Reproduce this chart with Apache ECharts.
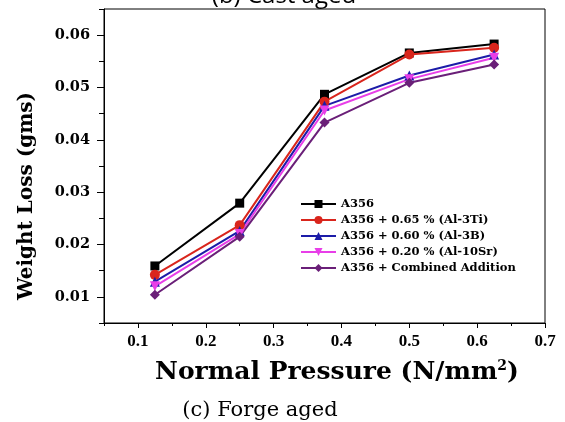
<!DOCTYPE html>
<html>
<head>
<meta charset="utf-8">
<script src="https://cdn.jsdelivr.net/npm/echarts@6/dist/echarts.min.js"></script>
<style>html,body{margin:0;padding:0;background:#fff}#c{width:565px;height:422px}</style>
</head>
<body>
<div id="c"></div>
<script>
var pressure = [0.125, 0.25, 0.375, 0.5, 0.625];
var seriesNames = ['A356', 'A356 + 0.65 % (Al-3Ti)', 'A356 + 0.60 % (Al-3B)', 'A356 + 0.20 % (Al-10Sr)', 'A356 + Combined Addition'];
var a356 =      [0.0159, 0.0279, 0.0487, 0.0566, 0.0583];
var a356Ti =    [0.0142, 0.0237, 0.0473, 0.0563, 0.0576];
var a356B =     [0.0129, 0.0226, 0.0465, 0.0523, 0.0563];
var a356Sr =    [0.0120, 0.0220, 0.0456, 0.0516, 0.0557];
var a356Comb =  [0.0104, 0.0215, 0.0433, 0.0509, 0.0544];
var yMajorTicks = [0.01, 0.02, 0.03, 0.04, 0.05, 0.06];
var yMinorTicks = [0.005, 0.015, 0.025, 0.035, 0.045, 0.055, 0.065];
var xMajorTicks = [0.1, 0.2, 0.3, 0.4, 0.5, 0.6, 0.7];
var xMinorTicks = [0.05, 0.15, 0.25, 0.35, 0.45, 0.55, 0.65];

var colors = ['#000000', '#d9251c', '#1c1ca8', '#e83ee8', '#6a1f78'];
var symbols = ['rect', 'circle', 'triangle', 'triangle', 'diamond'];
var rot = [0, 0, 0, 180, 0];
var allData = [a356, a356Ti, a356B, a356Sr, a356Comb];

var serif = '"Liberation Serif", "Times New Roman", serif';
var wideSerif = '"DejaVu Serif", serif';
var chart = echarts.init(document.getElementById('c'));

function pairs(arr) { return pressure.map(function (x, i) { return [x, arr[i]]; }); }

var series = allData.map(function (d, i) {
  return {
    name: seriesNames[i], type: 'line', data: pairs(d),
    xAxisIndex: 0, yAxisIndex: 0,
    symbol: symbols[i], symbolRotate: rot[i], symbolSize: i === 0 ? 9 : 10,
    lineStyle: { color: colors[i], width: 2 },
    itemStyle: { color: colors[i] },
    animation: false
  };
});

chart.setOption({
  animation: false,
  grid: { left: 104, top: 9, right: 20, bottom: 99, show: true, borderColor: '#000', borderWidth: 1 },
  legend: {
    orient: 'vertical', left: 295, top: 193, itemWidth: 35, itemHeight: 10, itemGap: 4,
    textStyle: { fontFamily: wideSerif, fontWeight: 'bold', fontSize: 11.5, color: '#000' },
    data: seriesNames
  },
  xAxis: [{
    type: 'value', min: 0.05, max: 0.7, interval: 0.05,
    axisLine: { show: true, lineStyle: { color: '#000', width: 1 } },
    axisTick: { show: true, inside: false, length: 5, customValues: xMajorTicks, lineStyle: { color: '#000' } },
    axisLabel: { customValues: xMajorTicks, margin: 10, fontFamily: serif, fontWeight: 'bold', fontSize: 17, color: '#000',
      formatter: function (v) { return v.toFixed(1); } },
    splitLine: { show: false }
  }, {
    type: 'value', min: 0.05, max: 0.7, interval: 0.05, position: 'bottom', offset: 0,
    axisLine: { show: false },
    axisTick: { show: true, inside: false, length: 3, customValues: xMinorTicks, lineStyle: { color: '#000' } },
    axisLabel: { show: false }, splitLine: { show: false }
  }],
  yAxis: [{
    type: 'value', min: 0.005, max: 0.065, interval: 0.005,
    axisLine: { show: true, lineStyle: { color: '#000', width: 1 } },
    axisTick: { show: true, inside: false, length: 7, customValues: yMajorTicks, lineStyle: { color: '#000' } },
    axisLabel: { customValues: yMajorTicks, margin: 14, fontFamily: wideSerif, fontWeight: 'bold', fontSize: 14.5, color: '#000',
      formatter: function (v) { return v.toFixed(2); } },
    splitLine: { show: false }
  }, {
    type: 'value', min: 0.005, max: 0.065, interval: 0.005, position: 'left', offset: 0,
    axisLine: { show: false },
    axisTick: { show: true, inside: false, length: 5, customValues: yMinorTicks, lineStyle: { color: '#000' } },
    axisLabel: { show: false }, splitLine: { show: false }
  }],
  series: series,
  graphic: [
    { type: 'text', x: 284, y: 8, style: { text: '(b) Cast aged', font: '24px "Open Sans", sans-serif', fill: '#000', align: 'center', verticalAlign: 'bottom' } },
    { type: 'text', x: 260, y: 411, style: { text: '(c) Forge aged', font: '21px "DejaVu Serif", serif', fill: '#000', align: 'center', verticalAlign: 'middle' } },
    { type: 'text', x: 27, y: 196, rotation: Math.PI / 2,
      style: { text: 'Weight Loss (gms)', font: 'bold 20px ' + wideSerif, fill: '#000', align: 'center', verticalAlign: 'middle' } },
    { type: 'text', x: 337, y: 372,
      style: { text: '{n|Normal Pressure (N/mm}{s|2}{n|)}', align: 'center', verticalAlign: 'middle',
        rich: { n: { font: 'bold 25px ' + wideSerif, color: '#000' }, s: { font: 'bold 14px ' + wideSerif, color: '#000', verticalAlign: 'top', padding: [0, 0, 11, 0] } } } }
  ]
});
</script>
</body>
</html>
